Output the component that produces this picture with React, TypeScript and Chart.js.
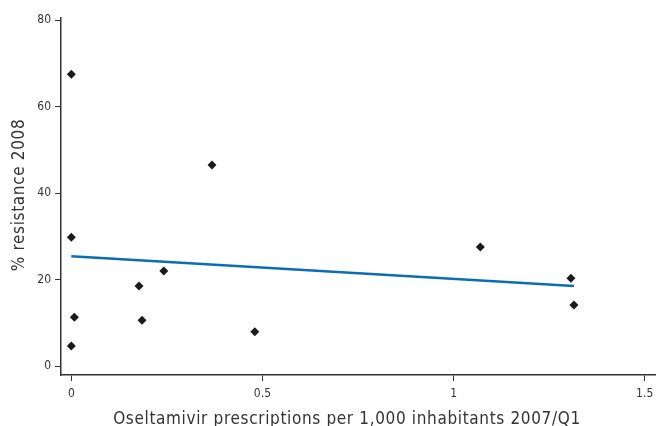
import React, { useEffect, useRef } from "react";
import { Chart, registerables } from "chart.js";

Chart.register(...registerables);

const prescriptions = [0, 0, 0.008, 0, 0.177, 0.185, 0.242, 0.368, 0.48, 1.07, 1.307, 1.315];
const resistance = [67.5, 29.8, 11.3, 4.6, 18.5, 10.6, 22.0, 46.5, 7.9, 27.5, 20.3, 14.1];
const trendX = [0, 1.315];
const trendY = [25.4, 18.5];
const xTicks = [0, 0.5, 1, 1.5];
const yTicks = [0, 20, 40, 60, 80];
const xTitle = "Oseltamivir prescriptions per 1,000 inhabitants 2007/Q1";
const yTitle = "% resistance 2008";

const FONT = "'DejaVu Sans Condensed', 'DejaVu Sans', sans-serif";
const TEXT = "#333";

const titlePlugin = {
  id: "axisTitles",
  afterDraw(chart: any) {
    const ctx = chart.ctx;
    ctx.save();
    ctx.fillStyle = TEXT;
    ctx.font = `17px ${FONT}`;
    (ctx as any).letterSpacing = "0.65px";
    ctx.textAlign = "center";
    ctx.textBaseline = "alphabetic";
    ctx.fillText(xTitle, 347, 424);
    ctx.translate(24, 195);
    ctx.rotate(-Math.PI / 2);
    ctx.fillText(yTitle, 0, 0);
    ctx.restore();
  },
};

const noPad = () => ({ left: 0, top: 0, right: 0, bottom: 0 });

export default function App() {
  const ref = useRef<HTMLCanvasElement | null>(null);
  useEffect(() => {
    document.body.style.margin = "0";
    const ctx = ref.current!;
    const chart = new Chart(ctx, {
      type: "scatter",
      data: {
        datasets: [
          {
            type: "line",
            data: trendX.map((x, i) => ({ x, y: trendY[i] })),
            borderColor: "#0b6db3",
            borderWidth: 2.5,
            pointRadius: 0,
            fill: false,
          },
          {
            data: prescriptions.map((x, i) => ({ x, y: resistance[i] })),
            pointStyle: "rectRot",
            pointRadius: 4.5,
            backgroundColor: "#1a1a1a",
            borderColor: "#1a1a1a",
            borderWidth: 0,
          },
        ],
      },
      plugins: [titlePlugin],
      options: {
        animation: false,
        responsive: false,
        maintainAspectRatio: false,
        layout: { autoPadding: false, padding: { top: 18, right: 2, left: 0, bottom: 0 } },
        plugins: { legend: { display: false }, tooltip: { enabled: false } },
        scales: {
          x: {
            type: "linear",
            min: -0.027,
            max: 1.527,
            afterBuildTicks: (s: any) => {
              s.ticks = xTicks.map((v) => ({ value: v }));
            },
            afterFit: (s: any) => {
              s.height = 51;
              s.getPadding = noPad;
            },
            grid: { drawOnChartArea: false, drawTicks: true, tickLength: 6, color: "#333" },
            border: { display: true, color: "#333", width: 1.5 },
            ticks: {
              color: TEXT,
              font: { family: FONT, size: 12 },
              padding: 6,
              maxRotation: 0,
              callback: (v: any) => String(v),
            },
          },
          y: {
            type: "linear",
            min: -2.08,
            max: 80.5,
            afterBuildTicks: (s: any) => {
              s.ticks = yTicks.map((v) => ({ value: v }));
            },
            afterFit: (s: any) => {
              s.width = 61;
              s.getPadding = noPad;
            },
            grid: { drawOnChartArea: false, drawTicks: true, tickLength: 6, color: "#333" },
            border: { display: true, color: "#333", width: 1.5 },
            ticks: {
              color: TEXT,
              font: { family: FONT, size: 12 },
              padding: 4,
              callback: (v: any) => String(v),
            },
          },
        },
      },
    });
    return () => chart.destroy();
  }, []);
  return (
    <div style={{ width: 657, height: 426, background: "#fff" }}>
      <canvas ref={ref} width={657} height={426} style={{ display: "block", width: 657, height: 426 }} />
    </div>
  );
}
